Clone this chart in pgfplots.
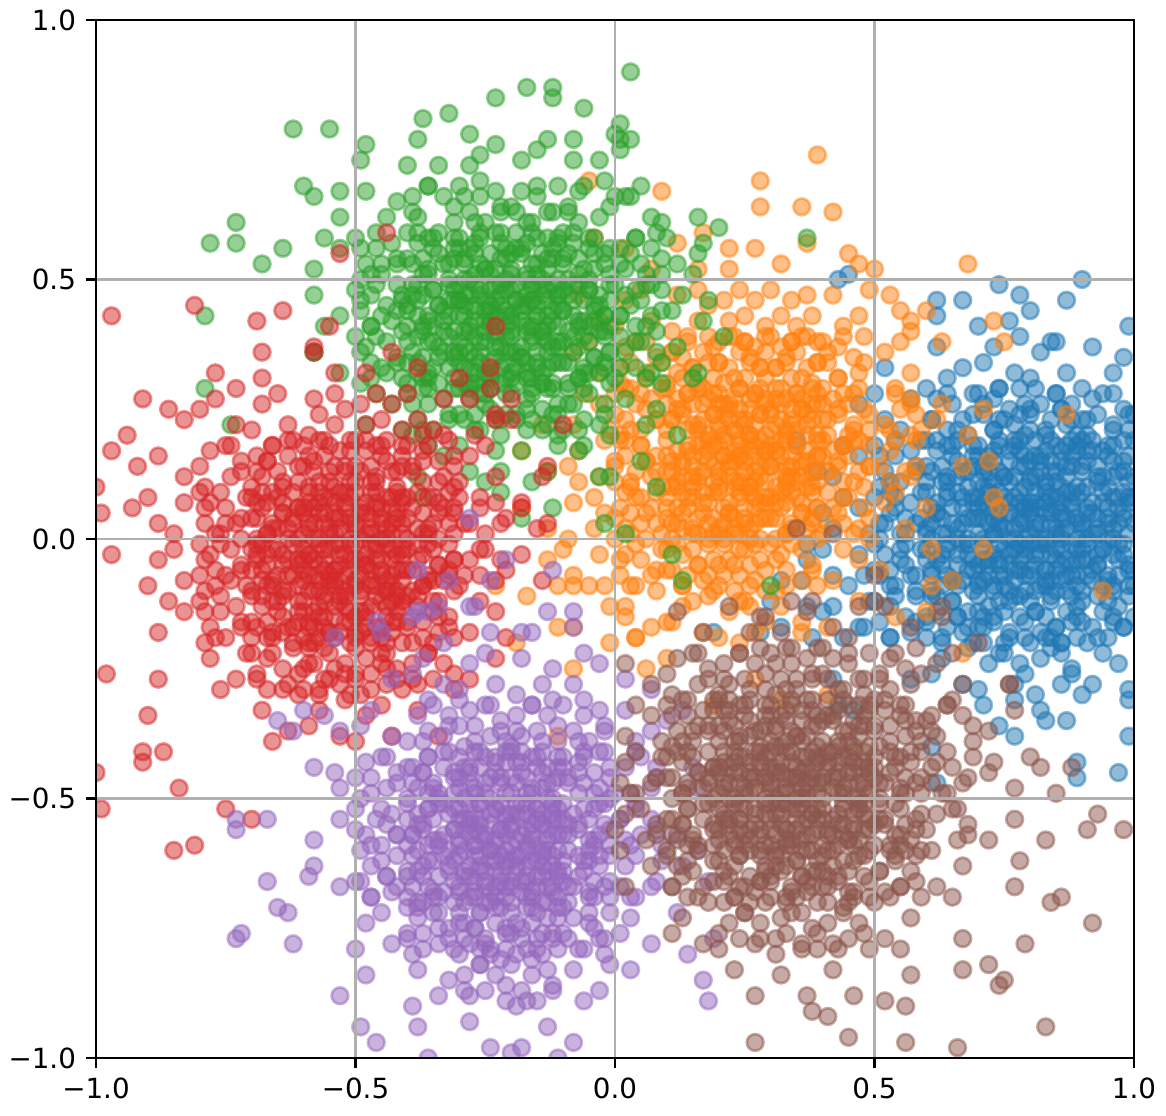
\documentclass[border=0pt]{standalone}
\usepackage{fontspec}
\setmainfont{DejaVu Sans}
\usepackage{pgfplots}
\usepackage{pgfplotstable}
\pgfplotsset{compat=1.18}
\definecolor{cA}{HTML}{1F77B4}
\definecolor{cB}{HTML}{FF7F0E}
\definecolor{cC}{HTML}{2CA02C}
\definecolor{cD}{HTML}{D62728}
\definecolor{cE}{HTML}{9467BD}
\definecolor{cF}{HTML}{8C564B}
% all values in hundredths of an axis unit
\pgfplotstableread{
x y
43 50
45 51
90 50
67 46
74 49
78 47
99 41
62 43
70 41
80 44
84 38
89 -43
89 -46
97 -45
99 -38
87 -35
77 -38
99 -31
90 -30
83 -35
77 -31
71 -32
61 -40
62 -47
19 -18
28 -18
38 -19
40 -14
42 -27
43 -32
46 -33
48 -17
30 -12
36 -8
40 5
39 13
35 19
37 -1
62 46
76 42
87 46
52 33
67 33
62 37
64 31
73 37
77 32
71 34
78 39
82 36
87 32
85 38
80 31
96 32
92 37
98 35
101 33
47 26
52 23
57 27
55 21
50 28
67 23
62 27
64 21
69 28
61 23
65 26
68 20
60 29
73 27
77 22
71 24
78 29
73 21
76 25
70 28
79 20
79 26
74 23
74 29
82 26
87 22
85 28
80 21
88 26
84 23
81 29
89 20
83 20
86 25
80 25
96 22
92 27
98 25
91 20
96 28
93 24
99 21
90 29
90 23
100 24
102 21
47 16
42 12
44 18
52 13
57 17
55 11
50 18
58 13
54 16
51 10
59 19
67 13
62 17
64 11
69 18
61 13
65 16
68 10
60 19
66 19
63 14
69 14
64 18
60 11
66 12
73 17
77 12
71 14
78 19
73 11
76 15
70 18
79 10
79 16
74 13
74 19
78 14
71 10
72 16
75 12
76 17
70 11
72 13
77 18
82 16
87 12
85 18
80 11
88 16
84 13
81 19
89 10
83 10
86 15
80 15
85 11
89 18
83 17
87 14
82 13
88 19
86 17
81 12
84 15
96 12
92 17
98 15
91 10
96 18
93 14
99 11
90 19
90 13
95 16
95 10
91 15
98 19
97 13
94 17
93 12
100 12
101 17
102 14
100 19
47 6
42 2
44 8
49 1
52 3
57 7
55 1
50 8
58 3
54 6
51 0
59 9
53 9
56 4
67 3
62 7
64 1
69 8
61 3
65 6
68 0
60 9
66 9
63 4
69 4
64 8
60 1
66 2
62 5
67 6
61 0
73 7
77 2
71 4
78 9
73 1
76 5
70 8
79 0
79 6
74 3
74 9
78 4
71 0
72 6
75 2
76 7
70 1
72 3
77 8
74 5
76 0
70 6
79 3
82 6
87 2
85 8
80 1
88 6
84 3
81 9
89 0
83 0
86 5
80 5
85 1
89 8
83 7
87 4
82 3
88 9
86 7
81 2
84 5
89 3
83 9
86 0
80 7
85 6
96 2
92 7
98 5
91 0
96 8
93 4
99 1
90 9
90 3
95 6
95 0
91 5
98 9
97 3
94 7
93 2
99 8
97 6
92 1
95 4
100 3
101 7
100 8
102 1
37 -4
32 -8
42 -7
47 -3
45 -9
40 -2
48 -7
57 -7
52 -3
54 -9
59 -2
51 -7
55 -4
58 -10
50 -1
56 -1
53 -6
63 -3
67 -8
61 -6
68 -1
63 -9
66 -5
60 -2
69 -10
69 -4
64 -7
64 -1
68 -6
61 -10
62 -4
65 -8
66 -3
72 -4
77 -8
75 -2
70 -9
78 -4
74 -7
71 -1
79 -10
73 -10
76 -5
70 -5
75 -9
79 -2
73 -3
77 -6
72 -7
78 -1
76 -3
71 -8
74 -5
79 -7
86 -8
82 -3
88 -5
81 -10
86 -2
83 -6
89 -9
80 -1
80 -7
85 -4
85 -10
81 -5
88 -1
87 -7
84 -3
83 -8
89 -2
87 -4
82 -9
85 -6
83 -1
89 -7
97 -4
92 -8
94 -2
99 -9
91 -4
95 -7
98 -1
90 -10
96 -10
93 -5
99 -5
94 -9
90 -2
96 -3
92 -6
97 -7
91 -1
93 -3
100 -6
101 -2
100 -9
32 -17
37 -13
47 -17
42 -13
44 -19
49 -12
53 -13
57 -18
51 -16
58 -11
53 -19
56 -15
50 -12
62 -14
67 -18
65 -12
60 -19
68 -14
64 -17
61 -11
69 -20
63 -20
66 -15
60 -15
76 -18
72 -13
78 -15
71 -20
76 -12
73 -16
79 -19
70 -11
70 -17
75 -14
75 -20
71 -15
78 -11
87 -14
82 -18
84 -12
89 -19
81 -14
85 -17
88 -11
80 -20
86 -20
83 -15
89 -15
84 -19
80 -12
92 -17
97 -13
95 -19
90 -12
98 -17
94 -14
91 -20
99 -11
93 -11
96 -16
100 -15
101 -18
57 -27
63 -23
67 -28
61 -26
68 -21
72 -24
77 -28
75 -22
70 -29
78 -24
86 -28
82 -23
88 -25
81 -30
86 -22
97 -24
92 -28
94 -22
99 -29
74 -36
82 -33
64 28
69 24
61 23
66 21
78 24
74 29
73 21
71 26
75 23
85 28
80 24
88 23
83 21
86 25
94 28
99 24
91 23
96 21
58 14
54 19
53 11
51 16
65 18
60 14
68 13
63 11
66 15
62 19
69 16
64 12
74 18
79 14
71 13
76 11
73 15
77 19
70 16
75 12
78 17
72 10
88 14
84 19
83 11
81 16
85 13
89 17
86 10
82 15
87 18
80 12
95 18
90 14
98 13
93 11
96 15
92 19
99 16
94 12
91 17
54 8
59 4
51 3
56 1
53 5
68 4
64 9
63 1
61 6
65 3
69 7
66 0
62 5
67 8
60 2
75 8
70 4
78 3
73 1
76 5
72 9
79 6
74 2
71 7
77 0
73 4
78 7
84 8
89 4
81 3
86 1
83 5
87 9
80 6
85 2
88 7
82 0
86 4
81 7
98 4
94 9
93 1
91 6
95 3
99 7
96 0
92 5
97 8
90 2
55 -2
50 -6
58 -7
53 -9
56 -5
64 -2
69 -6
61 -7
66 -9
63 -5
67 -1
60 -4
65 -8
68 -3
78 -6
74 -1
73 -9
71 -4
75 -7
79 -3
76 -10
72 -5
77 -2
70 -8
74 -4
85 -2
80 -6
88 -7
83 -9
86 -5
82 -1
89 -4
84 -8
81 -3
87 -10
83 -6
94 -2
99 -6
91 -7
96 -9
93 -5
97 -1
90 -4
95 -8
98 -3
58 -16
54 -11
53 -19
65 -12
60 -16
68 -17
63 -19
66 -15
62 -11
74 -12
79 -16
71 -17
76 -19
73 -15
77 -11
70 -14
88 -16
84 -11
83 -19
81 -14
85 -17
89 -13
86 -20
95 -12
90 -16
98 -17
93 -19
96 -15
74 -22
79 -26
88 -26
84 -21
}\tblA
\pgfplotstableread{
x y
39 74
28 69
28 64
36 64
42 63
45 55
50 52
68 53
60 44
73 42
63 38
75 38
63 26
71 25
68 20
72 15
67 14
73 8
74 6
60 6
54 9
56 13
57 20
55 25
57 27
57 40
55 44
87 24
9 67
-5 69
-4 58
22 56
17 59
94 -10
67 -22
65 -8
61 -9
61 -2
71 -2
60 -14
54 -15
47 -12
51 -6
36 -16
41 -17
26 -13
24 -20
10 -23
6 -25
4 -19
2 -15
19 -32
32 -31
41 -30
27 -27
-11 -38
-8 -25
-11 -17
-19 -20
-23 -9
-17 -11
-11 -9
-8 -9
-2 -9
-1 -13
-1 -20
2 56
7 52
16 52
12 57
27 56
22 52
32 53
37 57
47 53
-7 47
-3 42
2 46
7 42
5 48
0 41
16 42
12 47
18 45
11 40
16 48
27 46
22 42
24 48
29 41
21 46
25 43
32 43
37 47
35 41
30 48
38 43
34 46
47 43
42 47
44 41
49 48
53 47
57 42
-8 36
-3 32
-5 38
6 32
2 37
8 35
1 30
6 38
3 34
17 36
12 32
14 38
19 31
11 36
15 33
18 39
10 30
16 30
13 35
22 33
27 37
25 31
20 38
28 33
24 36
21 30
29 39
23 39
26 34
20 34
25 38
29 31
37 33
32 37
34 31
39 38
31 33
35 36
38 30
30 39
36 39
33 34
39 34
34 38
43 37
47 32
41 34
48 39
43 31
46 35
40 38
52 36
57 32
55 38
-14 22
-3 26
-8 22
-6 28
-1 21
2 23
7 27
5 21
0 28
8 23
4 26
1 20
9 29
3 29
17 23
12 27
14 21
19 28
11 23
15 26
18 20
10 29
16 29
13 24
19 24
14 28
10 21
16 22
12 25
17 26
23 27
27 22
21 24
28 29
23 21
26 25
20 28
29 20
29 26
24 23
24 29
28 24
21 20
22 26
25 22
26 27
20 21
22 23
27 28
24 25
26 20
20 26
32 26
37 22
35 28
30 21
38 26
34 23
31 29
39 20
33 20
36 25
30 25
35 21
39 28
33 27
37 24
32 23
38 29
36 27
31 22
34 25
46 22
42 27
48 25
41 20
46 28
43 24
49 21
40 29
40 23
45 26
45 20
57 26
52 22
54 28
59 21
62 23
-13 13
-18 17
-7 17
-3 12
-9 14
-2 19
-7 11
2 16
7 12
5 18
0 11
8 16
4 13
1 19
9 10
3 10
6 15
0 15
16 12
12 17
18 15
11 10
16 18
13 14
19 11
10 19
10 13
15 16
15 10
11 15
18 19
17 13
14 17
13 12
19 18
17 16
12 11
15 14
27 16
22 12
24 18
29 11
21 16
25 13
28 19
20 10
26 10
23 15
29 15
24 11
20 18
26 17
22 14
27 13
21 19
23 17
28 12
25 15
20 13
26 19
23 10
29 17
24 16
32 13
37 17
35 11
30 18
38 13
34 16
31 10
39 19
33 19
36 14
30 14
35 18
39 11
33 12
37 15
32 16
38 10
36 12
31 17
34 14
39 16
33 10
47 13
42 17
44 11
49 18
41 13
45 16
48 10
40 19
46 19
43 14
49 14
44 18
53 17
57 12
51 14
58 19
-18 6
-13 2
-4 2
-8 7
-2 5
-9 0
-4 8
7 6
2 2
4 8
9 1
1 6
5 3
8 9
0 0
6 0
3 5
12 3
17 7
15 1
10 8
18 3
14 6
11 0
19 9
13 9
16 4
10 4
15 8
19 1
13 2
17 5
12 6
18 0
27 3
22 7
24 1
29 8
21 3
25 6
28 0
20 9
26 9
23 4
29 4
24 8
20 1
26 2
22 5
27 6
21 0
23 2
28 7
25 4
33 7
37 2
31 4
38 9
33 1
36 5
30 8
39 0
39 6
34 3
34 9
38 4
31 0
32 6
35 2
36 7
42 6
47 2
45 8
40 1
48 6
44 3
41 9
49 0
56 2
52 7
-13 -4
-8 -7
-3 -3
-5 -9
-10 -2
7 -7
2 -3
4 -9
9 -2
1 -7
5 -4
8 -10
13 -3
17 -8
11 -6
18 -1
13 -9
16 -5
10 -2
19 -10
19 -4
14 -7
22 -4
27 -8
25 -2
20 -9
28 -4
24 -7
21 -1
29 -10
23 -10
26 -5
20 -5
36 -8
32 -3
38 -5
31 -10
36 -2
33 -6
39 -9
30 -1
47 -4
42 -8
44 -2
-8 -17
7 -17
2 -13
4 -19
13 -13
17 -18
11 -16
18 -11
22 -14
27 -18
25 -12
20 -19
36 -18
32 -13
4 38
9 34
1 33
6 31
18 34
14 39
13 31
11 36
15 33
19 37
25 38
20 34
28 33
23 31
26 35
22 39
29 36
34 38
39 34
31 33
36 31
33 35
37 39
48 34
44 39
43 31
41 36
5 28
0 24
8 23
3 21
6 25
2 29
14 28
19 24
11 23
16 21
13 25
17 29
10 26
15 22
18 27
28 24
24 29
23 21
21 26
25 23
29 27
26 20
22 25
27 28
20 22
35 28
30 24
38 23
33 21
36 25
32 29
39 26
34 22
31 27
37 20
44 28
49 24
41 23
46 21
43 25
47 29
40 26
58 24
54 29
53 21
5 18
0 14
8 13
3 11
6 15
2 19
14 18
19 14
11 13
16 11
13 15
17 19
10 16
15 12
18 17
12 10
28 14
24 19
23 11
21 16
25 13
29 17
26 10
22 15
27 18
20 12
24 16
27 11
35 18
30 14
38 13
33 11
36 15
32 19
39 16
34 12
31 17
37 10
33 14
44 18
49 14
41 13
46 11
43 15
47 19
40 16
58 14
54 19
53 11
5 8
0 4
8 3
3 1
6 5
2 9
14 8
19 4
11 3
16 1
13 5
17 9
10 6
15 2
18 7
28 4
24 9
23 1
21 6
25 3
29 7
26 0
22 5
27 8
20 2
35 8
30 4
38 3
33 1
36 5
32 9
39 6
34 2
31 7
44 8
49 4
41 3
46 1
43 5
8 -6
4 -1
3 -9
1 -4
15 -2
10 -6
18 -7
13 -9
16 -5
12 -1
24 -2
29 -6
21 -7
26 -9
23 -5
27 -1
38 -6
34 -1
33 -9
31 -4
15 -12
10 -16
24 -12
29 -16
}\tblB
\pgfplotstableread{
x y
3 90
-17 87
-12 87
-12 85
-23 85
-6 83
-32 82
-37 81
-28 78
-62 79
-55 79
1 80
1 77
0 78
1 75
-15 75
-8 73
-49 73
-40 72
-26 74
-60 68
-53 67
3 66
0 66
9 61
10 58
20 60
16 55
37 58
-73 61
-73 57
-78 57
-68 53
-64 56
-79 43
-79 29
-74 22
-58 36
-37 8
-22 9
-2 3
8 10
13 -8
30 -9
-12 6
-18 4
11 -3
2 1
18 46
21 39
15 31
12 20
5 15
-1 12
-6 18
-48 76
-34 72
-38 77
-23 76
-28 72
-18 73
-13 77
-3 73
-8 77
3 77
-58 66
-53 62
-44 62
-48 67
-42 65
-33 66
-38 62
-36 68
-31 61
-39 66
-28 63
-23 67
-25 61
-30 68
-22 63
-26 66
-13 63
-18 67
-16 61
-11 68
-19 63
-15 66
-7 67
-3 62
-9 64
-2 69
-7 61
2 66
7 62
5 68
16 62
-53 56
-58 52
-56 58
-48 53
-43 57
-45 51
-50 58
-42 53
-46 56
-49 50
-33 53
-38 57
-36 51
-31 58
-39 53
-35 56
-32 50
-40 59
-34 59
-37 54
-31 54
-36 58
-27 57
-23 52
-29 54
-22 59
-27 51
-24 55
-30 58
-21 50
-21 56
-26 53
-26 59
-22 54
-29 50
-28 56
-25 52
-18 56
-13 52
-15 58
-20 51
-12 56
-16 53
-19 59
-11 50
-17 50
-14 55
-20 55
-15 51
-11 58
-17 57
-13 54
-4 52
-8 57
-2 55
-9 50
-4 58
-7 54
-1 51
-10 59
-10 53
-5 56
-5 50
-9 55
7 56
2 52
4 58
9 51
1 56
5 53
8 59
12 53
17 57
15 51
-53 43
-58 47
-56 41
-47 47
-43 42
-49 44
-42 49
-47 41
-44 45
-50 48
-41 40
-41 46
-38 46
-33 42
-35 48
-40 41
-32 46
-36 43
-39 49
-31 40
-37 40
-34 45
-40 45
-35 41
-31 48
-37 47
-33 44
-38 43
-32 49
-24 42
-28 47
-22 45
-29 40
-24 48
-27 44
-21 41
-30 49
-30 43
-25 46
-25 40
-29 45
-22 49
-23 43
-26 47
-27 42
-21 48
-23 46
-28 41
-25 44
-27 49
-21 43
-30 46
-23 40
-24 45
-13 46
-18 42
-16 48
-11 41
-19 46
-15 43
-12 49
-20 40
-14 40
-17 45
-11 45
-16 41
-20 48
-14 47
-18 44
-13 43
-19 49
-17 47
-12 42
-15 45
-20 43
-14 49
-17 40
-11 47
-16 46
-8 43
-3 47
-5 41
-10 48
-2 43
-6 46
-9 40
-1 49
-7 49
-4 44
-10 44
-5 48
-1 41
-7 42
-3 45
-8 46
-2 40
-4 42
7 43
2 47
4 41
9 48
1 43
5 46
8 40
0 49
6 49
13 47
17 42
11 44
-58 36
-53 32
-44 32
-48 37
-42 35
-49 30
-44 38
-47 34
-41 31
-50 39
-33 36
-38 32
-36 38
-31 31
-39 36
-35 33
-32 39
-40 30
-34 30
-37 35
-31 35
-36 31
-40 38
-34 37
-38 34
-28 33
-23 37
-25 31
-30 38
-22 33
-26 36
-29 30
-21 39
-27 39
-24 34
-30 34
-25 38
-21 31
-27 32
-23 35
-28 36
-22 30
-24 32
-29 37
-26 34
-21 36
-27 30
-13 33
-18 37
-16 31
-11 38
-19 33
-15 36
-12 30
-20 39
-14 39
-17 34
-11 34
-16 38
-20 31
-14 32
-18 35
-13 36
-19 30
-17 32
-12 37
-15 34
-20 36
-14 30
-7 37
-3 32
-9 34
-2 39
-7 31
-4 35
-10 38
-1 30
-1 36
-6 33
-6 39
-2 34
-9 30
-8 36
-5 32
2 36
7 32
5 38
0 31
8 36
4 33
1 39
9 30
16 32
12 37
-43 26
-48 22
-46 28
-41 21
-38 23
-33 27
-35 21
-40 28
-32 23
-36 26
-39 20
-31 29
-37 29
-23 23
-28 27
-26 21
-21 28
-29 23
-25 26
-22 20
-30 29
-24 29
-27 24
-21 24
-26 28
-17 27
-13 22
-19 24
-12 29
-17 21
-14 25
-20 28
-11 20
-11 26
-16 23
-16 29
-12 24
-8 26
-3 22
-5 28
-10 21
-2 26
-6 23
-9 29
-1 20
6 22
2 27
8 25
-33 16
-38 12
-36 18
-28 13
-23 17
-25 11
-30 18
-22 13
-13 13
-18 17
-16 11
-11 18
-7 17
-3 12
-36 68
-31 64
-39 63
-22 64
-26 69
-27 61
-29 66
-15 68
-20 64
-12 63
-17 61
-6 68
-1 64
-9 63
-42 54
-46 59
-47 51
-49 56
-45 53
-35 58
-40 54
-32 53
-37 51
-34 55
-38 59
-31 56
-36 52
-26 58
-21 54
-29 53
-24 51
-27 55
-23 59
-30 56
-25 52
-22 57
-28 50
-12 54
-16 59
-17 51
-19 56
-15 53
-11 57
-14 50
-18 55
-13 58
-20 52
-5 58
-10 54
-2 53
-7 51
-4 55
-8 59
-1 56
-6 52
4 58
9 54
1 53
6 51
3 55
-42 44
-46 49
-47 41
-49 46
-45 43
-41 47
-35 48
-40 44
-32 43
-37 41
-34 45
-38 49
-31 46
-36 42
-39 47
-33 40
-26 48
-21 44
-29 43
-24 41
-27 45
-23 49
-30 46
-25 42
-22 47
-28 40
-24 44
-29 47
-12 44
-16 49
-17 41
-19 46
-15 43
-11 47
-14 40
-18 45
-13 48
-20 42
-16 46
-13 41
-5 48
-10 44
-2 43
-7 41
-4 45
-8 49
-1 46
-6 42
-9 47
-3 40
4 48
9 44
1 43
6 41
3 45
7 49
-42 34
-46 39
-47 31
-49 36
-45 33
-35 38
-40 34
-32 33
-37 31
-34 35
-38 39
-31 36
-36 32
-26 38
-21 34
-29 33
-24 31
-27 35
-23 39
-30 36
-25 32
-22 37
-28 30
-12 34
-16 39
-17 31
-19 36
-15 33
-11 37
-14 30
-18 35
-13 38
-20 32
-5 38
-10 34
-2 33
-7 31
-4 35
-8 39
-1 36
-6 32
4 38
9 34
1 33
6 31
-32 24
-36 29
-37 21
-39 26
-25 28
-30 24
-22 23
-27 21
-24 25
-28 29
-16 28
-11 24
-19 23
-14 21
-17 25
-13 29
-2 24
-6 29
-7 21
-9 26
}\tblC
\pgfplotstableread{
x y
-97 43
-81 45
-69 42
-64 44
-55 41
-58 36
-53 55
-44 59
-23 41
-24 33
-24 29
-20 27
-30 31
-23 24
-20 23
-10 22
-13 14
-18 6
-15 2
-27 20
-37 20
-33 20
-91 27
-100 10
-99 5
-100 -45
-99 -52
-91 -43
-91 -41
-87 -41
-90 -34
-84 -48
-85 -60
-81 -59
-75 -52
-70 -54
-98 -26
-94 20
-92 14
-86 25
-80 25
-77 32
-73 29
-68 31
-68 36
-54 32
-58 37
-43 36
-48 32
-38 33
-83 23
-77 27
-73 22
-68 26
-63 22
-65 28
-70 21
-54 22
-58 27
-52 25
-59 20
-54 28
-57 24
-43 26
-48 22
-46 28
-41 21
-49 26
-45 23
-38 23
-33 27
-35 21
-40 28
-23 23
-28 27
-97 17
-88 16
-83 12
-74 12
-78 17
-72 15
-79 10
-74 18
-63 16
-68 12
-66 18
-61 11
-69 16
-65 13
-62 19
-70 10
-64 10
-67 15
-58 13
-53 17
-55 11
-60 18
-52 13
-56 16
-59 10
-51 19
-57 19
-54 14
-60 14
-55 18
-51 11
-43 13
-48 17
-46 11
-41 18
-49 13
-45 16
-42 10
-50 19
-44 19
-47 14
-41 14
-46 18
-50 11
-37 17
-33 12
-39 14
-32 19
-37 11
-34 15
-40 18
-31 10
-31 16
-28 16
-23 12
-25 18
-30 11
-14 12
-93 6
-88 3
-83 7
-85 1
-90 8
-73 3
-78 7
-76 1
-71 8
-79 3
-75 6
-72 0
-80 9
-67 7
-63 2
-69 4
-62 9
-67 1
-64 5
-70 8
-61 0
-61 6
-66 3
-66 9
-62 4
-69 0
-68 6
-65 2
-64 7
-58 6
-53 2
-55 8
-60 1
-52 6
-56 3
-59 9
-51 0
-57 0
-54 5
-60 5
-55 1
-51 8
-57 7
-53 4
-58 3
-52 9
-54 7
-59 2
-56 5
-51 3
-57 9
-44 2
-48 7
-42 5
-49 0
-44 8
-47 4
-41 1
-50 9
-50 3
-45 6
-45 0
-49 5
-42 9
-43 3
-46 7
-47 2
-41 8
-43 6
-48 1
-45 4
-47 9
-41 3
-33 6
-38 2
-36 8
-31 1
-39 6
-35 3
-32 9
-40 0
-34 0
-37 5
-31 5
-36 1
-40 8
-34 7
-28 3
-23 7
-25 1
-30 8
-22 3
-26 6
-13 3
-18 7
-97 -3
-88 -4
-83 -8
-85 -2
-90 -9
-74 -8
-78 -3
-72 -5
-79 -10
-74 -2
-77 -6
-71 -9
-80 -1
-80 -7
-63 -4
-68 -8
-66 -2
-61 -9
-69 -4
-65 -7
-62 -1
-70 -10
-64 -10
-67 -5
-61 -5
-66 -9
-70 -2
-64 -3
-68 -6
-63 -7
-69 -1
-67 -3
-58 -7
-53 -3
-55 -9
-60 -2
-52 -7
-56 -4
-59 -10
-51 -1
-57 -1
-54 -6
-60 -6
-55 -2
-51 -9
-57 -8
-53 -5
-58 -4
-52 -10
-54 -8
-59 -3
-56 -6
-51 -4
-57 -10
-54 -1
-60 -8
-55 -7
-43 -7
-48 -3
-46 -9
-41 -2
-49 -7
-45 -4
-42 -10
-50 -1
-44 -1
-47 -6
-41 -6
-46 -2
-50 -9
-44 -8
-48 -5
-43 -4
-49 -10
-47 -8
-42 -3
-45 -6
-50 -4
-44 -10
-47 -1
-41 -8
-37 -3
-33 -8
-39 -6
-32 -1
-37 -9
-34 -5
-40 -2
-31 -10
-31 -4
-36 -7
-36 -1
-32 -6
-39 -10
-38 -4
-35 -8
-28 -4
-23 -8
-25 -2
-30 -9
-22 -4
-26 -7
-14 -8
-18 -3
-83 -14
-88 -18
-86 -12
-78 -17
-73 -13
-75 -19
-80 -12
-72 -17
-76 -14
-79 -20
-63 -17
-68 -13
-66 -19
-61 -12
-69 -17
-65 -14
-62 -20
-70 -11
-64 -11
-67 -16
-61 -16
-66 -12
-70 -19
-64 -18
-57 -13
-53 -18
-59 -16
-52 -11
-57 -19
-54 -15
-60 -12
-51 -20
-51 -14
-56 -17
-56 -11
-52 -16
-59 -20
-58 -14
-55 -18
-54 -13
-60 -19
-58 -17
-53 -12
-56 -15
-48 -14
-43 -18
-45 -12
-50 -19
-42 -14
-46 -17
-49 -11
-41 -20
-47 -20
-44 -15
-50 -15
-45 -19
-41 -12
-47 -13
-43 -16
-48 -17
-42 -11
-44 -13
-49 -18
-34 -18
-38 -13
-32 -15
-39 -20
-34 -12
-37 -16
-31 -19
-40 -11
-40 -17
-35 -14
-35 -20
-23 -14
-28 -18
-26 -12
-21 -19
-88 -27
-73 -27
-78 -23
-76 -29
-71 -22
-67 -23
-63 -28
-69 -26
-62 -21
-67 -29
-64 -25
-70 -22
-61 -30
-58 -24
-53 -28
-55 -22
-60 -29
-52 -24
-56 -27
-59 -21
-51 -30
-57 -30
-54 -25
-60 -25
-44 -28
-48 -23
-42 -25
-49 -30
-44 -22
-47 -26
-41 -29
-50 -21
-50 -27
-45 -24
-33 -24
-38 -28
-36 -22
-31 -29
-39 -24
-35 -27
-28 -27
-23 -23
-63 -37
-68 -33
-66 -39
-57 -33
-53 -38
-59 -36
-52 -31
-48 -34
-43 -38
-45 -32
-50 -39
-34 -38
-38 -33
-75 18
-80 14
-72 13
-66 18
-61 14
-69 13
-64 11
-67 15
-63 19
-52 14
-56 19
-57 11
-59 16
-55 13
-51 17
-54 10
-58 15
-45 18
-50 14
-42 13
-47 11
-44 15
-48 19
-41 16
-46 12
-36 18
-31 14
-39 13
-34 11
-37 15
-72 4
-76 9
-77 1
-79 6
-75 3
-65 8
-70 4
-62 3
-67 1
-64 5
-68 9
-61 6
-66 2
-69 7
-63 0
-56 8
-51 4
-59 3
-54 1
-57 5
-53 9
-60 6
-55 2
-52 7
-58 0
-54 4
-59 7
-42 4
-46 9
-47 1
-49 6
-45 3
-41 7
-44 0
-48 5
-43 8
-50 2
-46 6
-43 1
-35 8
-40 4
-32 3
-37 1
-34 5
-38 9
-31 6
-36 2
-26 8
-21 4
-29 3
-72 -6
-76 -1
-77 -9
-79 -4
-75 -7
-65 -2
-70 -6
-62 -7
-67 -9
-64 -5
-68 -1
-61 -4
-66 -8
-69 -3
-63 -10
-56 -2
-51 -6
-59 -7
-54 -9
-57 -5
-53 -1
-60 -4
-55 -8
-52 -3
-58 -10
-54 -6
-59 -3
-42 -6
-46 -1
-47 -9
-49 -4
-45 -7
-41 -3
-44 -10
-48 -5
-43 -2
-50 -8
-46 -4
-43 -9
-35 -2
-40 -6
-32 -7
-37 -9
-34 -5
-38 -1
-31 -4
-36 -8
-26 -2
-21 -6
-29 -7
-72 -16
-76 -11
-77 -19
-79 -14
-65 -12
-70 -16
-62 -17
-67 -19
-64 -15
-68 -11
-61 -14
-66 -18
-56 -12
-51 -16
-59 -17
-54 -19
-57 -15
-53 -11
-60 -14
-55 -18
-52 -13
-58 -20
-42 -16
-46 -11
-47 -19
-49 -14
-45 -17
-41 -13
-44 -20
-48 -15
-43 -12
-50 -18
-35 -12
-40 -16
-32 -17
-37 -19
-34 -15
-38 -11
-66 -22
-61 -26
-69 -27
-64 -29
-52 -26
-56 -21
-57 -29
-59 -24
-55 -27
-45 -22
-50 -26
-42 -27
-47 -29
-44 -25
-36 -22
-31 -26
-39 -27
}\tblD
\pgfplotstableread{
x y
-73 -77
-72 -76
-67 -66
-65 -71
-63 -72
-59 -65
-62 -78
-53 -88
-49 -94
-46 -97
-73 -54
-73 -56
-67 -54
12 -72
19 -77
17 -85
18 -89
14 -80
-28 4
-24 -8
-21 -4
-27 -13
-12 -6
-34 -13
-8 -14
-16 -18
-33 -20
7 -29
10 -35
15 -44
16 -60
18 -66
-54 -19
-65 -35
-60 -33
-56 -34
-62 -37
-54 -45
-46 -16
-45 -18
-39 -15
-36 -14
-38 -6
-32 -8
-36 -100
-28 -101
-20 -99
-11 -100
-2 -101
-38 -14
-24 -18
-28 -13
-13 -14
-18 -18
-8 -17
-43 -27
-37 -23
-33 -28
-39 -26
-28 -24
-23 -28
-25 -22
-30 -29
-14 -28
-18 -23
-12 -25
-19 -30
-3 -24
-8 -28
-6 -22
2 -27
-53 -37
-47 -33
-43 -38
-49 -36
-38 -34
-33 -38
-35 -32
-40 -39
-32 -34
-36 -37
-24 -38
-28 -33
-22 -35
-29 -40
-24 -32
-27 -36
-21 -39
-30 -31
-13 -34
-18 -38
-16 -32
-11 -39
-19 -34
-15 -37
-12 -31
-20 -40
-8 -37
-3 -33
-5 -39
-10 -32
-2 -37
-6 -34
7 -37
2 -33
4 -39
13 -33
-58 -44
-53 -48
-44 -48
-48 -43
-42 -45
-49 -50
-44 -42
-47 -46
-33 -44
-38 -48
-36 -42
-31 -49
-39 -44
-35 -47
-32 -41
-40 -50
-34 -50
-37 -45
-31 -45
-36 -49
-28 -47
-23 -43
-25 -49
-30 -42
-22 -47
-26 -44
-29 -50
-21 -41
-27 -41
-24 -46
-30 -46
-25 -42
-21 -49
-27 -48
-23 -45
-28 -44
-13 -47
-18 -43
-16 -49
-11 -42
-19 -47
-15 -44
-12 -50
-20 -41
-14 -41
-17 -46
-11 -46
-16 -42
-20 -49
-14 -48
-18 -45
-13 -44
-7 -43
-3 -48
-9 -46
-2 -41
-7 -49
-4 -45
-10 -42
-1 -50
-1 -44
-6 -47
-6 -41
2 -44
7 -48
5 -42
0 -49
8 -44
16 -48
-53 -54
-58 -58
-48 -57
-43 -53
-45 -59
-50 -52
-42 -57
-46 -54
-49 -60
-33 -57
-38 -53
-36 -59
-31 -52
-39 -57
-35 -54
-32 -60
-40 -51
-34 -51
-37 -56
-31 -56
-36 -52
-40 -59
-34 -58
-38 -55
-27 -53
-23 -58
-29 -56
-22 -51
-27 -59
-24 -55
-30 -52
-21 -60
-21 -54
-26 -57
-26 -51
-22 -56
-29 -60
-28 -54
-25 -58
-24 -53
-30 -59
-28 -57
-23 -52
-26 -55
-24 -60
-30 -54
-21 -57
-28 -51
-27 -56
-18 -54
-13 -58
-15 -52
-20 -59
-12 -54
-16 -57
-19 -51
-11 -60
-17 -60
-14 -55
-20 -55
-15 -59
-11 -52
-17 -53
-13 -56
-18 -57
-12 -51
-14 -53
-19 -58
-16 -55
-11 -57
-17 -51
-14 -60
-20 -53
-15 -54
-4 -58
-8 -53
-2 -55
-9 -60
-4 -52
-7 -56
-1 -59
-10 -51
-10 -57
-5 -54
-5 -60
-9 -55
-2 -51
-3 -57
7 -54
2 -58
4 -52
9 -59
1 -54
5 -57
12 -57
-53 -67
-58 -63
-47 -63
-43 -68
-49 -66
-42 -61
-47 -69
-44 -65
-38 -64
-33 -68
-35 -62
-40 -69
-32 -64
-36 -67
-39 -61
-31 -70
-37 -70
-34 -65
-40 -65
-35 -69
-31 -62
-37 -63
-24 -68
-28 -63
-22 -65
-29 -70
-24 -62
-27 -66
-21 -69
-30 -61
-30 -67
-25 -64
-25 -70
-29 -65
-22 -61
-23 -67
-26 -63
-27 -68
-21 -62
-23 -64
-28 -69
-25 -66
-27 -61
-21 -67
-13 -64
-18 -68
-16 -62
-11 -69
-19 -64
-15 -67
-12 -61
-20 -70
-14 -70
-17 -65
-11 -65
-16 -69
-20 -62
-14 -63
-18 -66
-13 -67
-19 -61
-17 -63
-12 -68
-15 -65
-20 -67
-14 -61
-8 -67
-3 -63
-5 -69
-10 -62
-2 -67
-6 -64
-9 -70
-1 -61
-7 -61
-4 -66
-10 -66
-5 -62
-1 -69
7 -67
2 -63
4 -69
9 -62
1 -67
13 -63
-48 -74
-43 -78
-45 -72
-50 -79
-34 -78
-38 -73
-32 -75
-39 -80
-34 -72
-37 -76
-31 -79
-40 -71
-40 -77
-23 -74
-28 -78
-26 -72
-21 -79
-29 -74
-25 -77
-22 -71
-30 -80
-24 -80
-27 -75
-21 -75
-26 -79
-30 -72
-18 -77
-13 -73
-15 -79
-20 -72
-12 -77
-16 -74
-19 -80
-11 -71
-17 -71
-14 -76
-20 -76
-15 -72
-11 -79
-3 -77
-8 -73
-6 -79
-1 -72
-9 -77
-5 -74
-2 -80
-10 -71
3 -73
7 -78
1 -76
-48 -84
-34 -88
-38 -83
-32 -85
-39 -90
-23 -84
-28 -88
-26 -82
-21 -89
-29 -84
-25 -87
-22 -81
-18 -87
-13 -83
-15 -89
-20 -82
-12 -87
-16 -84
-19 -90
-3 -87
-8 -83
-6 -89
-1 -82
3 -83
-38 -94
-24 -98
-28 -93
-13 -94
-18 -98
-8 -97
-32 -36
-36 -31
-37 -39
-25 -32
-30 -36
-22 -37
-27 -39
-16 -32
-11 -36
-19 -37
-14 -39
-2 -36
-6 -31
-7 -39
-45 -42
-50 -46
-42 -47
-47 -49
-36 -42
-31 -46
-39 -47
-34 -49
-37 -45
-33 -41
-40 -44
-35 -48
-22 -46
-26 -41
-27 -49
-29 -44
-25 -47
-21 -43
-24 -50
-28 -45
-23 -42
-30 -48
-15 -42
-20 -46
-12 -47
-17 -49
-14 -45
-18 -41
-11 -44
-16 -48
-19 -43
-13 -50
-6 -42
-1 -46
-9 -47
-4 -49
-7 -45
-3 -41
-10 -44
8 -46
4 -41
3 -49
-45 -52
-50 -56
-42 -57
-47 -59
-44 -55
-36 -52
-31 -56
-39 -57
-34 -59
-37 -55
-33 -51
-40 -54
-35 -58
-32 -53
-38 -60
-22 -56
-26 -51
-27 -59
-29 -54
-25 -57
-21 -53
-24 -60
-28 -55
-23 -52
-30 -58
-26 -54
-23 -59
-15 -52
-20 -56
-12 -57
-17 -59
-14 -55
-18 -51
-11 -54
-16 -58
-19 -53
-13 -60
-17 -56
-12 -53
-6 -52
-1 -56
-9 -57
-4 -59
-7 -55
-3 -51
-10 -54
-5 -58
8 -56
4 -51
3 -59
1 -54
-45 -62
-50 -66
-42 -67
-47 -69
-44 -65
-36 -62
-31 -66
-39 -67
-34 -69
-37 -65
-33 -61
-40 -64
-35 -68
-32 -63
-38 -70
-22 -66
-26 -61
-27 -69
-29 -64
-25 -67
-21 -63
-24 -70
-28 -65
-23 -62
-30 -68
-26 -64
-23 -69
-15 -62
-20 -66
-12 -67
-17 -69
-14 -65
-18 -61
-11 -64
-16 -68
-19 -63
-13 -70
-17 -66
-12 -63
-6 -62
-1 -66
-9 -67
-4 -69
-7 -65
-3 -61
-10 -64
-5 -68
8 -66
4 -61
3 -69
-35 -72
-40 -76
-32 -77
-37 -79
-34 -75
-38 -71
-26 -72
-21 -76
-29 -77
-24 -79
-27 -75
-23 -71
-30 -74
-25 -78
-12 -76
-16 -71
-17 -79
-19 -74
-15 -77
-11 -73
-14 -80
-18 -75
-5 -72
-10 -76
-2 -77
-7 -79
-4 -75
-26 -82
-21 -86
-29 -87
-12 -86
-16 -81
-17 -89
}\tblE
\pgfplotstableread{
x y
98 -56
93 -53
91 -56
92 -74
83 -94
66 -98
56 -97
45 -96
27 -97
79 -78
74 -86
86 -69
84 -70
38 -91
41 -92
52 -89
56 -90
67 -83
72 -82
75 -85
35 2
42 1
50 -7
88 -44
85 -49
80 -42
78 -62
83 -58
72 -45
76 -28
70 -20
63 -15
50 -12
38 -12
29 -15
60 -35
65 -31
12 -14
17 -18
26 -18
22 -13
28 -15
37 -14
32 -18
34 -12
42 -17
47 -13
45 -19
57 -17
52 -13
63 -13
2 -24
7 -28
16 -28
12 -23
18 -25
11 -30
16 -22
27 -24
22 -28
24 -22
29 -29
21 -24
25 -27
28 -21
20 -30
32 -27
37 -23
35 -29
30 -22
38 -27
34 -24
31 -30
39 -21
33 -21
47 -27
42 -23
44 -29
49 -22
41 -27
45 -24
48 -30
40 -21
53 -23
57 -28
51 -26
58 -21
53 -29
56 -25
62 -24
67 -28
65 -22
76 -28
7 -34
2 -38
4 -32
9 -39
12 -37
17 -33
15 -39
10 -32
18 -37
14 -34
11 -40
19 -31
13 -31
16 -36
27 -37
22 -33
24 -39
29 -32
21 -37
25 -34
28 -40
20 -31
26 -31
23 -36
29 -36
24 -32
20 -39
26 -38
22 -35
33 -33
37 -38
31 -36
38 -31
33 -39
36 -35
30 -32
39 -40
39 -34
34 -37
34 -31
38 -36
31 -40
32 -34
35 -38
36 -33
30 -39
42 -34
47 -38
45 -32
40 -39
48 -34
44 -37
41 -31
49 -40
43 -40
46 -35
40 -35
45 -39
49 -32
43 -33
47 -36
56 -38
52 -33
58 -35
51 -40
56 -32
53 -36
59 -39
50 -31
50 -37
55 -34
67 -34
62 -38
64 -32
69 -39
61 -34
72 -37
77 -33
7 -47
2 -43
4 -49
9 -42
1 -47
13 -43
17 -48
11 -46
18 -41
13 -49
16 -45
10 -42
19 -50
19 -44
14 -47
14 -41
18 -46
11 -50
22 -44
27 -48
25 -42
20 -49
28 -44
24 -47
21 -41
29 -50
23 -50
26 -45
20 -45
25 -49
29 -42
23 -43
27 -46
22 -47
28 -41
26 -43
21 -48
24 -45
29 -47
23 -41
36 -48
32 -43
38 -45
31 -50
36 -42
33 -46
39 -49
30 -41
30 -47
35 -44
35 -50
31 -45
38 -41
37 -47
34 -43
33 -48
39 -42
37 -44
32 -49
35 -46
33 -41
39 -47
30 -44
37 -50
36 -45
47 -44
42 -48
44 -42
49 -49
41 -44
45 -47
48 -41
40 -50
46 -50
43 -45
49 -45
44 -49
40 -42
46 -43
42 -46
47 -47
41 -41
43 -43
48 -48
45 -45
40 -47
46 -41
52 -47
57 -43
55 -49
50 -42
58 -47
54 -44
51 -50
59 -41
53 -41
56 -46
50 -46
55 -42
59 -49
67 -47
62 -43
64 -49
69 -42
61 -47
65 -44
73 -43
77 -48
82 -44
6 -58
2 -53
8 -55
1 -60
17 -54
12 -58
14 -52
19 -59
11 -54
15 -57
18 -51
10 -60
16 -60
13 -55
19 -55
14 -59
22 -57
27 -53
25 -59
20 -52
28 -57
24 -54
21 -60
29 -51
23 -51
26 -56
20 -56
25 -52
29 -59
23 -58
27 -55
22 -54
28 -60
26 -58
21 -53
24 -56
37 -57
32 -53
34 -59
39 -52
31 -57
35 -54
38 -60
30 -51
36 -51
33 -56
39 -56
34 -52
30 -59
36 -58
32 -55
37 -54
31 -60
33 -58
38 -53
35 -56
30 -54
36 -60
33 -51
43 -53
47 -58
41 -56
48 -51
43 -59
46 -55
40 -52
49 -60
49 -54
44 -57
44 -51
48 -56
41 -60
42 -54
45 -58
46 -53
40 -59
42 -57
47 -52
44 -55
52 -54
57 -58
55 -52
50 -59
58 -54
54 -57
51 -51
59 -60
53 -60
56 -55
50 -55
55 -59
66 -58
62 -53
68 -55
61 -60
66 -52
77 -54
72 -58
2 -67
7 -63
17 -67
12 -63
14 -69
19 -62
11 -67
15 -64
18 -70
10 -61
23 -63
27 -68
21 -66
28 -61
23 -69
26 -65
20 -62
29 -70
29 -64
24 -67
24 -61
28 -66
21 -70
32 -64
37 -68
35 -62
30 -69
38 -64
34 -67
31 -61
39 -70
33 -70
36 -65
30 -65
35 -69
39 -62
33 -63
37 -66
46 -68
42 -63
48 -65
41 -70
46 -62
43 -66
49 -69
40 -61
40 -67
45 -64
45 -70
41 -65
48 -61
57 -64
52 -68
54 -62
59 -69
51 -64
55 -67
58 -61
50 -70
62 -67
67 -63
65 -69
77 -67
13 -73
17 -78
11 -76
22 -74
27 -78
25 -72
20 -79
28 -74
24 -77
36 -78
32 -73
38 -75
31 -80
36 -72
33 -76
39 -79
47 -74
42 -78
44 -72
49 -79
41 -74
45 -77
52 -77
57 -73
55 -79
67 -77
23 -83
27 -88
32 -84
37 -88
46 -88
42 -83
57 -84
15 -22
10 -26
18 -27
24 -22
29 -26
21 -27
26 -29
38 -26
34 -21
33 -29
31 -24
35 -27
45 -22
40 -26
48 -27
43 -29
54 -22
59 -26
51 -27
18 -36
14 -31
13 -39
11 -34
15 -37
19 -33
25 -32
20 -36
28 -37
23 -39
26 -35
22 -31
29 -34
24 -38
21 -33
34 -32
39 -36
31 -37
36 -39
33 -35
37 -31
30 -34
35 -38
38 -33
32 -40
48 -36
44 -31
43 -39
41 -34
45 -37
49 -33
46 -40
42 -35
47 -32
55 -32
50 -36
58 -37
53 -39
56 -35
52 -31
64 -32
69 -36
61 -37
8 -46
4 -41
3 -49
15 -42
10 -46
18 -47
13 -49
16 -45
12 -41
19 -44
14 -48
24 -42
29 -46
21 -47
26 -49
23 -45
27 -41
20 -44
25 -48
28 -43
22 -50
26 -46
21 -43
38 -46
34 -41
33 -49
31 -44
35 -47
39 -43
36 -50
32 -45
37 -42
30 -48
34 -46
37 -49
45 -42
40 -46
48 -47
43 -49
46 -45
42 -41
49 -44
44 -48
41 -43
47 -50
43 -46
48 -43
54 -42
59 -46
51 -47
56 -49
53 -45
57 -41
50 -44
55 -48
68 -46
64 -41
63 -49
61 -44
5 -52
0 -56
8 -57
14 -52
19 -56
11 -57
16 -59
13 -55
17 -51
10 -54
15 -58
28 -56
24 -51
23 -59
21 -54
25 -57
29 -53
26 -60
22 -55
27 -52
20 -58
24 -54
35 -52
30 -56
38 -57
33 -59
36 -55
32 -51
39 -54
34 -58
31 -53
37 -60
33 -56
38 -53
44 -52
49 -56
41 -57
46 -59
43 -55
47 -51
40 -54
45 -58
48 -53
42 -60
46 -56
58 -56
54 -51
53 -59
51 -54
55 -57
59 -53
56 -60
52 -55
65 -52
60 -56
68 -57
14 -62
19 -66
11 -67
16 -69
13 -65
28 -66
24 -61
23 -69
21 -64
25 -67
29 -63
26 -70
22 -65
35 -62
30 -66
38 -67
33 -69
36 -65
32 -61
39 -64
34 -68
31 -63
44 -62
49 -66
41 -67
46 -69
43 -65
47 -61
40 -64
45 -68
58 -66
54 -61
53 -69
51 -64
55 -67
25 -72
20 -76
28 -77
34 -72
39 -76
31 -77
36 -79
48 -76
44 -71
43 -79
}\tblF
\begin{document}
\begin{tikzpicture}
\begin{axis}[
  name=ax,
  scale only axis,
  width=373.68pt, height=373.68pt,
  xmin=-1, xmax=1, ymin=-1, ymax=1,
  xtick={-1,-0.5,0,0.5,1}, ytick={-1,-0.5,0,0.5,1},
  xticklabels={−1.0,−0.5,0.0,0.5,1.0},
  yticklabels={−1.0,−0.5,0.0,0.5,1.0},
  xtick pos=bottom, ytick pos=left,
  tick align=outside,
  major tick length=3.5pt,
  every tick/.style={black, line width=0.8pt},
  axis line style={black, line width=0.8pt},
  grid=major,
  major grid style={color=black!31, line width=0.8pt},
  axis on top,
  clip marker paths=true,
  ticklabel style={font=\fontsize{10}{12}\selectfont},
  xticklabel style={inner sep=0pt, yshift=-3.5pt},
  yticklabel style={inner sep=0pt, xshift=-3.5pt},
  every axis plot/.append style={only marks, mark=*, mark size=3pt},
]
\addplot[mark options={draw=cA, fill=cA, fill opacity=0.5, draw opacity=0.5, line width=1pt}] table[x expr=\thisrow{x}/100, y expr=\thisrow{y}/100]{\tblA};
\addplot[mark options={draw=cB, fill=cB, fill opacity=0.5, draw opacity=0.5, line width=1pt}] table[x expr=\thisrow{x}/100, y expr=\thisrow{y}/100]{\tblB};
\addplot[mark options={draw=cC, fill=cC, fill opacity=0.5, draw opacity=0.5, line width=1pt}] table[x expr=\thisrow{x}/100, y expr=\thisrow{y}/100]{\tblC};
\addplot[mark options={draw=cD, fill=cD, fill opacity=0.5, draw opacity=0.5, line width=1pt}] table[x expr=\thisrow{x}/100, y expr=\thisrow{y}/100]{\tblD};
\addplot[mark options={draw=cE, fill=cE, fill opacity=0.5, draw opacity=0.5, line width=1pt}] table[x expr=\thisrow{x}/100, y expr=\thisrow{y}/100]{\tblE};
\addplot[mark options={draw=cF, fill=cF, fill opacity=0.5, draw opacity=0.5, line width=1pt}] table[x expr=\thisrow{x}/100, y expr=\thisrow{y}/100]{\tblF};
\end{axis}
\pgfresetboundingbox
\path ([xshift=-34.56pt,yshift=-20.52pt]ax.south west) rectangle ([xshift=11.52pt,yshift=7.2pt]ax.north east);
\end{tikzpicture}
\end{document}
